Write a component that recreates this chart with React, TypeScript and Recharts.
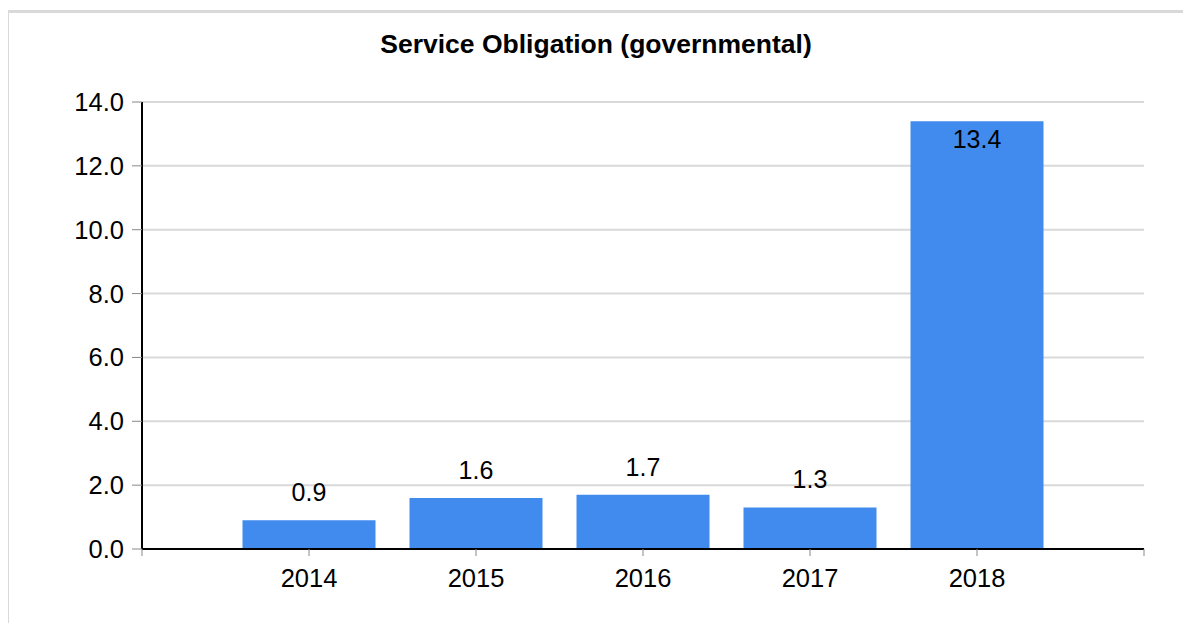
import React from 'react'
import { Bar, BarChart, CartesianGrid, LabelList, XAxis, YAxis } from 'recharts'

const years = ['2014', '2015', '2016', '2017', '2018']
const values = [0.9, 1.6, 1.7, 1.3, 13.4]
const yTicks = [0, 2, 4, 6, 8, 10, 12, 14]
const xTicks = [0, 1, 2, 3, 4, 5, 6]

const data = years.map((year, i) => ({ pos: i + 1, year, value: values[i] }))

const font = '"Liberation Sans", Arial, sans-serif'

const renderLabel = (props: any) => {
  const { x, y, width, value } = props
  const inside = value > 10
  return (
    <text
      x={x + width / 2}
      y={inside ? y + 27 : y - 19}
      textAnchor='middle'
      fontSize={25}
      fontFamily={font}
      fill='#000'
    >
      {value.toFixed(1)}
    </text>
  )
}

const App: React.FC = () => {
  return (
    <div
      style={{
        position: 'relative',
        marginLeft: -2,
        marginTop: 2,
        width: 1174,
        height: 620,
        border: '3px solid #d9d9d9',
        background: '#fff',
      }}
    >
      <div
        style={{
          position: 'absolute',
          top: 16,
          left: 0,
          width: '100%',
          textAlign: 'center',
          fontFamily: font,
          fontWeight: 'bold',
          fontSize: 26.5,
          color: '#000',
        }}
      >
        Service Obligation (governmental)
      </div>
      <BarChart
        width={1174}
        height={620}
        data={data}
        margin={{ top: 89, right: 39, left: 0, bottom: 44 }}
      >
        <CartesianGrid vertical={false} stroke='#d9d9d9' strokeWidth={2} />
        <XAxis
          dataKey='pos'
          type='number'
          domain={[0, 6]}
          ticks={xTicks}
          interval={0}
          height={40}
          tickSize={7}
          tickMargin={13}
          tickFormatter={(v: number) => years[v - 1] ?? ''}
          axisLine={{ stroke: '#000', strokeWidth: 2 }}
          tickLine={{ stroke: '#888' }}
          tick={{ fill: '#000', fontSize: 25.5, fontFamily: font }}
        />
        <YAxis
          width={133}
          domain={[0, 14]}
          ticks={yTicks}
          interval={0}
          tickSize={10}
          tickMargin={8}
          tickFormatter={(v: number) => v.toFixed(1)}
          axisLine={{ stroke: '#000', strokeWidth: 2 }}
          tickLine={{ stroke: '#888' }}
          tick={{ fill: '#000', fontSize: 25.5, fontFamily: font }}
        />
        <Bar dataKey='value' fill='#418bef' barSize={133} isAnimationActive={false}>
          <LabelList dataKey='value' content={renderLabel} />
        </Bar>
      </BarChart>
    </div>
  )
}

export default App
